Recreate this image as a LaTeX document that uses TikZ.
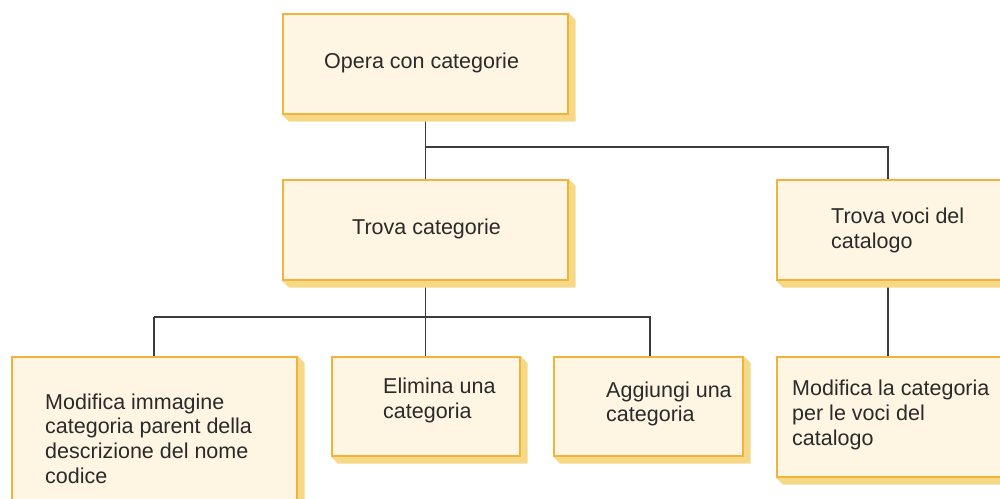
\documentclass[tikz,border=0pt]{standalone}
\usepackage{fontspec}
\setmainfont{Liberation Sans}
\usetikzlibrary{backgrounds,calc}
\definecolor{boxfill}{HTML}{FEF5E3}
\definecolor{boxline}{HTML}{F3B33A}
\definecolor{shade}{HTML}{F6D987}
\definecolor{conn}{HTML}{3C3C3C}
\definecolor{txt}{HTML}{2A2A2A}
\tikzset{
  box/.style={draw=boxline, fill=boxfill, line width=1.6pt, anchor=north west, inner sep=0pt},
  lbl/.style={anchor=west, align=left, inner sep=0pt, text=txt, font=\fontsize{21.5}{24.6}\selectfont},
  link/.style={draw=conn, line width=1.4pt},
  shd/.style={fill=shade}
}
\newcommand{\shadowof}[1]{%
  \fill[shd] (#1.south west) -- ++(7,7) -- ($(#1.south east)+(7,7)$) -- ($(#1.north east)+(7,7)$) -- (#1.north east) -- cycle;}
\begin{document}
\begin{tikzpicture}[x=1pt,y=-1pt]
\useasboundingbox (0,0) rectangle (1000,498);
\clip (0,0) rectangle (1000,498);
% boxes
\node[box, minimum width=285, minimum height=100] (top) at (282,13) {};
\node[box, minimum width=285, minimum height=100] (tc) at (282,179) {};
\node[box, minimum width=235, minimum height=100] (tv) at (776,179) {};
\node[box, minimum width=285, minimum height=160] (mi) at (11,356) {};
\node[box, minimum width=188, minimum height=99] (el) at (331,356) {};
\node[box, minimum width=189, minimum height=99] (ag) at (553,356) {};
\node[box, minimum width=235, minimum height=120] (mc) at (776,356) {};
% texts
\node[lbl] (ttop) at (324,63) {Opera con categorie};
\node[lbl] (ttc) at (352,229) {Trova categorie};
\node[lbl] (ttv) at (831,230.5) {Trova voci del\\catalogo};
\node[lbl] (tmi) at (45,438.5) {Modifica immagine\\categoria parent della\\descrizione del nome\\codice};
\node[lbl] (tel) at (383,400.5) {Elimina una\\categoria};
\node[lbl] (tag) at (606,404) {Aggiungi una\\categoria};
\node[lbl] (tmc) at (792,415) {Modifica la categoria\\per le voci del\\catalogo};
% junctions
\coordinate (j1) at (425,147);
\coordinate (j2) at (888,147);
\coordinate (j3) at (154,317);
\coordinate (j4) at (650,317);
\begin{pgfonlayer}{background}
\draw[link] (top.south) -- (tc.north);
\draw[link] (j1) -- (j2) -- (j2 |- tv.north);
\draw[link] (tc.south) -- (tc.south |- el.north);
\draw[link] (j3) -- (j4) -- (j4 |- ag.north);
\draw[link] (j3) -- (j3 |- mi.north);
\draw[link] (j2 |- tv.south) -- (j2 |- mc.north);
\shadowof{top}
\shadowof{tc}
\shadowof{tv}
\shadowof{mi}
\shadowof{el}
\shadowof{ag}
\shadowof{mc}
\end{pgfonlayer}
\end{tikzpicture}
\end{document}
